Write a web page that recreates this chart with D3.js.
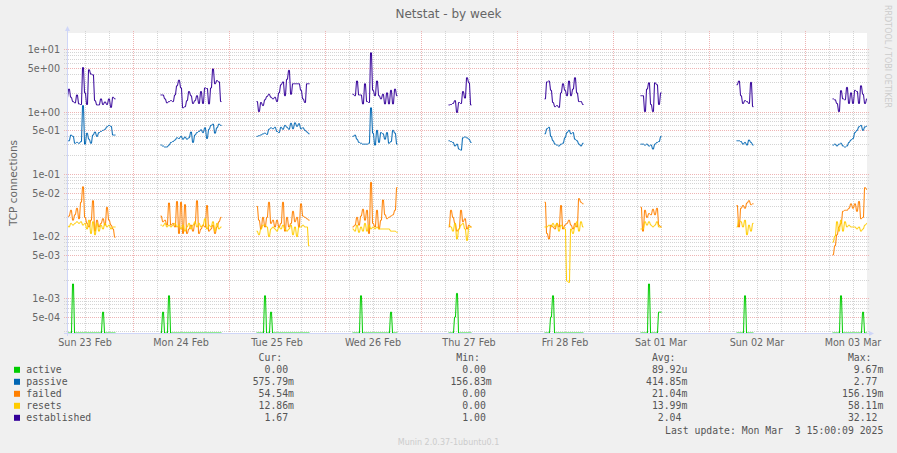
<!DOCTYPE html>
<html>
<head>
<meta charset="utf-8">
<script src="https://cdn.jsdelivr.net/npm/d3@7"></script>
<style>
  body { margin: 0; background: #f0f0f0; }
  svg text { white-space: pre; }
</style>
</head>
<body>
<div id="chart"></div>
<script>
// ---- data (30 minute samples, one array per daily block of data) ----
const segmentStarts = [
  "2025-02-23T07:15:00Z", "2025-02-24T06:45:00Z", "2025-02-25T06:45:00Z",
  "2025-02-26T06:45:00Z", "2025-02-27T06:45:00Z", "2025-02-28T06:45:00Z",
  "2025-03-01T06:45:00Z", "2025-03-02T06:45:00Z", "2025-03-03T06:45:00Z"
];

const active = [
  [0, 0, 0, 0.0017, 0, 0, 0, 0, 0, 0, 0, 0, 0, 0, 0, 0, 0, 0, 0.0006, 0, 0, 0, 0, 0, 0],
  [0, 0.0006, 0, 0, 0.0011, 0, 0, 0, 0, 0, 0, 0, 0, 0, 0, 0, 0, 0, 0, 0, 0, 0, 0, 0, 0, 0, 0, 0, 0, 0, 0],
  [0, 0, 0, 0, 0.0011, 0, 0, 0.0006, 0, 0, 0, 0, 0, 0, 0, 0, 0, 0, 0, 0, 0, 0, 0, 0, 0, 0, 0],
  [0, 0, 0, 0, 0.0011, 0, 0, 0, 0, 0, 0, 0, 0, 0, 0, 0, 0, 0, 0, 0.0006, 0, 0, 0],
  [0, 0, 0, 0.0005, 0.0012, 0, 0, 0, 0, 0, 0, 0],
  [0, 0, 0, 0.0005, 0.0011, 0, 0, 0, 0, 0, 0, 0, 0, 0, 0, 0, 0, 0, 0, 0],
  [0, 0, 0, 0, 0.0017, 0, 0, 0, 0, 0.0006, 0.0006],
  [0, 0, 0, 0, 0.0011, 0, 0, 0, 0],
  [0, 0, 0, 0, 0.0011, 0, 0, 0, 0, 0, 0, 0, 0, 0, 0, 0.0006, 0, 0]
];

const passive = [
  [0.33, 0.34, 0.42, 0.4, 0.31, 0.32, 0.31, 0.33, 1.25, 0.3, 0.45, 0.36, 0.31, 0.42, 0.47, 0.4, 0.46, 0.48, 0.5, 0.52, 0.57, 0.6, 0.58, 0.42, 0.42],
  [0.29, 0.28, 0.27, 0.27, 0.29, 0.32, 0.33, 0.35, 0.38, 0.37, 0.4, 0.36, 0.39, 0.36, 0.38, 0.47, 0.32, 0.42, 0.46, 0.48, 0.51, 0.46, 0.55, 0.37, 0.52, 0.6, 0.63, 0.45, 0.55, 0.63, 0.6],
  [0.4, 0.41, 0.42, 0.44, 0.45, 0.43, 0.52, 0.55, 0.53, 0.56, 0.48, 0.46, 0.56, 0.52, 0.6, 0.56, 0.52, 0.65, 0.53, 0.66, 0.58, 0.64, 0.53, 0.55, 0.5, 0.47, 0.44],
  [0.4, 0.42, 0.36, 0.32, 0.31, 0.3, 0.3, 0.3, 0.31, 1.15, 0.45, 0.29, 0.5, 0.32, 0.46, 0.44, 0.36, 0.46, 0.31, 0.33, 0.5, 0.45, 0.3],
  [0.34, 0.33, 0.32, 0.28, 0.3, 0.25, 0.24, 0.38, 0.39, 0.38, 0.36, 0.32],
  [0.44, 0.53, 0.56, 0.4, 0.34, 0.3, 0.29, 0.28, 0.3, 0.31, 0.38, 0.46, 0.5, 0.44, 0.46, 0.36, 0.34, 0.3, 0.28, 0.31],
  [0.3, 0.3, 0.29, 0.3, 0.28, 0.29, 0.25, 0.3, 0.32, 0.33, 0.4],
  [0.34, 0.34, 0.33, 0.3, 0.32, 0.29, 0.35, 0.32, 0.29],
  [0.29, 0.3, 0.28, 0.3, 0.31, 0.28, 0.27, 0.28, 0.32, 0.35, 0.37, 0.46, 0.5, 0.57, 0.6, 0.5, 0.57, 0.58]
];

const failed = [
  [0.02, 0.021, 0.026, 0.018, 0.022, 0.028, 0.019, 0.035, 0.062, 0.02, 0.016, 0.014, 0.018, 0.037, 0.012, 0.018, 0.014, 0.016, 0.019, 0.015, 0.029, 0.018, 0.015, 0.013, 0.0096],
  [0.021, 0.017, 0.018, 0.015, 0.034, 0.015, 0.016, 0.014, 0.036, 0.011, 0.035, 0.011, 0.032, 0.011, 0.013, 0.015, 0.012, 0.016, 0.037, 0.011, 0.013, 0.015, 0.014, 0.031, 0.012, 0.013, 0.015, 0.011, 0.014, 0.017, 0.02],
  [0.03, 0.018, 0.013, 0.02, 0.014, 0.02, 0.035, 0.016, 0.018, 0.014, 0.018, 0.014, 0.016, 0.035, 0.012, 0.02, 0.014, 0.016, 0.025, 0.017, 0.02, 0.014, 0.033, 0.021, 0.02, 0.019, 0.018],
  [0.014, 0.015, 0.02, 0.015, 0.021, 0.027, 0.018, 0.026, 0.011, 0.073, 0.016, 0.014, 0.026, 0.013, 0.018, 0.038, 0.022, 0.019, 0.02, 0.021, 0.022, 0.026, 0.06],
  [0.014, 0.026, 0.02, 0.016, 0.012, 0.013, 0.026, 0.017, 0.019, 0.013, 0.015, 0.014],
  [0.035, 0.011, 0.009, 0.015, 0.014, 0.013, 0.016, 0.014, 0.031, 0.013, 0.015, 0.016, 0.018, 0.015, 0.013, 0.016, 0.014, 0.04, 0.035, 0.033],
  [0.029, 0.012, 0.026, 0.02, 0.023, 0.022, 0.027, 0.022, 0.028, 0.015, 0.014],
  [0.031, 0.014, 0.028, 0.031, 0.028, 0.034, 0.037, 0.032, 0.033],
  [0.005, 0.007, 0.0105, 0.014, 0.016, 0.025, 0.026, 0.026, 0.028, 0.033, 0.028, 0.033, 0.025, 0.036, 0.019, 0.02, 0.06, 0.056]
];

const resets = [
  [0.015, 0.014, 0.016, 0.015, 0.016, 0.017, 0.016, 0.017, 0.015, 0.016, 0.013, 0.018, 0.011, 0.017, 0.0105, 0.016, 0.012, 0.015, 0.013, 0.016, 0.014, 0.015, 0.013, 0.014, 0.014],
  [0.015, 0.0145, 0.016, 0.014, 0.015, 0.014, 0.015, 0.016, 0.014, 0.015, 0.013, 0.015, 0.012, 0.014, 0.016, 0.013, 0.015, 0.017, 0.014, 0.016, 0.014, 0.015, 0.019, 0.013, 0.015, 0.014, 0.017, 0.012, 0.016, 0.013, 0.014],
  [0.012, 0.0105, 0.013, 0.015, 0.015, 0.014, 0.0098, 0.013, 0.014, 0.013, 0.012, 0.014, 0.013, 0.015, 0.013, 0.012, 0.013, 0.015, 0.0105, 0.014, 0.0098, 0.014, 0.014, 0.015, 0.014, 0.014, 0.007],
  [0.013, 0.012, 0.015, 0.0115, 0.014, 0.012, 0.016, 0.012, 0.015, 0.013, 0.014, 0.013, 0.014, 0.013, 0.013, 0.013, 0.013, 0.013, 0.013, 0.012, 0.012, 0.012, 0.0115],
  [0.015, 0.014, 0.012, 0.016, 0.009, 0.013, 0.015, 0.016, 0.013, 0.0085, 0.014, 0.014],
  [0.014, 0.014, 0.015, 0.014, 0.016, 0.014, 0.016, 0.012, 0.015, 0.014, 0.013, 0.0019, 0.0018, 0.013, 0.011, 0.014, 0.017, 0.012, 0.017, 0.014],
  [0.013, 0.013, 0.017, 0.015, 0.017, 0.015, 0.014, 0.015, 0.017, 0.014, 0.014],
  [0.014, 0.018, 0.017, 0.014, 0.018, 0.0105, 0.015, 0.012, 0.016],
  [0.008, 0.01, 0.017, 0.012, 0.018, 0.012, 0.017, 0.014, 0.015, 0.014, 0.014, 0.014, 0.013, 0.014, 0.012, 0.013, 0.015, 0.016]
];

const established = [
  [1.66, 2.3, 1.7, 1.45, 1.38, 1.85, 1.33, 1.3, 5.1, 2.0, 1.3, 4.7, 4.0, 3.9, 1.5, 1.28, 1.28, 1.6, 1.3, 1.43, 1.3, 1.6, 1.17, 1.7, 1.6],
  [1.85, 1.85, 1.6, 1.38, 1.45, 1.5, 1.45, 1.85, 2.6, 3.2, 2.4, 1.15, 1.2, 1.5, 2.1, 1.8, 1.35, 1.5, 1.8, 1.35, 2.1, 1.35, 2.4, 2.35, 1.33, 2.4, 4.85, 2.8, 3.15, 3.0, 1.45],
  [1.45, 1.0, 1.4, 1.25, 1.55, 1.75, 1.9, 1.7, 1.6, 1.7, 1.45, 2.0, 2.7, 3.0, 1.8, 3.3, 4.6, 1.9, 2.8, 2.8, 2.8, 2.8, 2.2, 1.6, 1.4, 2.8, 2.8],
  [1.9, 1.8, 3.1, 1.85, 1.85, 1.33, 2.8, 1.45, 1.4, 8.8, 2.2, 1.8, 3.1, 1.8, 1.6, 1.9, 1.33, 2.0, 1.33, 2.2, 1.33, 2.3, 1.8],
  [1.28, 1.3, 1.35, 1.5, 0.97, 1.4, 1.35, 2.1, 1.65, 3.5, 2.9, 1.28],
  [1.6, 3.0, 3.1, 2.2, 1.4, 1.2, 1.25, 1.17, 2.0, 2.8, 2.2, 1.8, 3.1, 1.8, 2.3, 3.5, 2.0, 1.45, 1.45, 1.3],
  [1.8, 1.8, 1.0, 2.3, 2.9, 1.3, 1.0, 2.9, 2.7, 1.3, 2.0],
  [2.7, 3.1, 1.8, 1.35, 1.5, 1.45, 1.35, 2.95, 1.2],
  [1.6, 1.55, 1.35, 1.0, 2.17, 1.6, 1.55, 2.45, 1.35, 2.0, 1.35, 2.2, 2.1, 1.35, 2.6, 1.9, 1.35, 1.6]
];

const seriesNames = ["active", "passive", "failed", "resets", "established"];
const seriesValues = [active, passive, failed, resets, established];
const seriesColors = ["#00cc00", "#0066b3", "#ff8000", "#ffcc00", "#330099"];

const legendCur = ["0.00", "575.79m", "54.54m", "12.86m", "1.67"];
const legendMin = ["0.00", "156.83m", "0.00", "0.00", "1.00"];
const legendAvg = ["89.92u", "414.85m", "21.04m", "13.99m", "2.04"];
const legendMax = ["9.67m", "2.77", "156.19m", "58.11m", "32.12"];

const yMajorTicks = [5e-4, 1e-3, 5e-3, 1e-2, 5e-2, 1e-1, 5e-1, 1, 5, 10];
const timeStart = "2025-02-23T07:30:00Z";
const timeEnd = "2025-03-03T15:30:00Z";
const lastUpdate = "Last update: Mon Mar  3 15:00:09 2025";

class NetstatChart {
    constructor(node, sizeSettings) {
        this.node = node;
        this.sizeSettings = sizeSettings;
        this.init();
    }

    init() {
        const {width, height} = this.sizeSettings;
        this.svg = d3.select(this.node).append('svg')
            .attr('width', width)
            .attr('height', height)
            .attr('viewBox', `0 0 ${width} ${height}`)
            .style('display', 'block');

        // plot box (pixels)
        this.plot = {left: 67, top: 33, width: 800, height: 300};
        this.updateScales();
        this.render();
    }

    updateScales() {
        const p = this.plot;
        this.x = d3.scaleUtc()
            .domain([new Date(timeStart), new Date(timeEnd)])
            .range([p.left, p.left + p.width]);
        // log axis, lower/upper limits as drawn by rrdtool
        this.yMin = Math.pow(10, -3.557);
        this.yMax = Math.pow(10, 1.263);
        this.y = d3.scaleLog()
            .domain([this.yMin, this.yMax])
            .range([p.top + p.height, p.top])
            .clamp(true);
    }

    fmtExp(v) {
        const e = Math.floor(Math.log10(v) + 1e-9);
        const m = Math.round(v / Math.pow(10, e));
        return `${m}e${e < 0 ? '-' : '+'}${String(Math.abs(e)).padStart(2, '0')}`;
    }

    render() {
        const {width, height} = this.sizeSettings;
        const p = this.plot;
        const svg = this.svg;
        const x = this.x, y = this.y;
        const bottom = p.top + p.height, right = p.left + p.width;
        const fontColor = '#666666';

        svg.append('rect').attr('width', width).attr('height', height).attr('fill', '#f0f0f0');
        svg.append('rect')
            .attr('x', p.left).attr('y', p.top)
            .attr('width', p.width).attr('height', p.height)
            .attr('fill', '#ffffff');

        // ---- grid ----
        const grid = svg.append('g').attr('shape-rendering', 'crispEdges');
        const minorY = [], majorY = [];
        for (let e = -4; e <= 1; e++) {
            for (let m = 1; m <= 9; m++) {
                const v = m * Math.pow(10, e);
                if (v < this.yMin || v > this.yMax) continue;
                (m === 1 || m === 5 ? majorY : minorY).push(v);
            }
        }
        const hLine = (vals, color) => grid.selectAll(null).data(vals).enter().append('line')
            .attr('x1', p.left - 3).attr('x2', right + 2)
            .attr('y1', (d) => Math.round(y(d)) + 0.5).attr('y2', (d) => Math.round(y(d)) + 0.5)
            .attr('stroke', color).attr('stroke-dasharray', '1,1');
        hLine(minorY, '#d4d4d4');
        hLine(majorY, '#eeb4b4');

        const sixHours = d3.utcHour.every(6).range(x.domain()[0], x.domain()[1]);
        const minorX = sixHours.filter((t) => t.getUTCHours() !== 0);
        const majorX = sixHours.filter((t) => t.getUTCHours() === 0);
        const vLine = (vals, color) => grid.selectAll(null).data(vals).enter().append('line')
            .attr('y1', p.top - 2).attr('y2', bottom + 2)
            .attr('x1', (d) => Math.round(x(d)) + 0.5).attr('x2', (d) => Math.round(x(d)) + 0.5)
            .attr('stroke', color).attr('stroke-dasharray', '1,1');
        vLine(minorX, '#d4d4d4');
        vLine(majorX, '#eeb4b4');

        // ---- series ----
        svg.append('clipPath').attr('id', 'plotClip')
            .append('rect').attr('x', p.left).attr('y', p.top - 1)
            .attr('width', p.width).attr('height', p.height + 2);

        const halfHour = 30 * 60 * 1000;
        const line = d3.line().x((d) => d[0]).y((d) => d[1]);

        const series = svg.append('g').attr('clip-path', 'url(#plotClip)');
        seriesValues.forEach((segments, si) => {
            segments.forEach((vals, k) => {
                const t0 = new Date(segmentStarts[k]).getTime();
                // every sample covers two pixel columns, like rrdtool draws it
                const pts = vals.flatMap((v, i) => {
                    const px = x(new Date(t0 + i * halfHour));
                    const py = y(Math.max(v, this.yMin));
                    return [[px + 0.5, py], [px + 1.5, py]];
                });
                series.append('path')
                    .attr('d', line(pts))
                    .attr('fill', 'none')
                    .attr('stroke', seriesColors[si])
                    .attr('stroke-width', 1);
            });
        });

        // ---- axes ----
        const axisColor = '#cfd6f8';
        svg.append('line').attr('x1', p.left - 3).attr('x2', right + 4)
            .attr('y1', bottom + 0.5).attr('y2', bottom + 0.5).attr('stroke', axisColor);
        svg.append('line').attr('x1', p.left + 0.5).attr('x2', p.left + 0.5)
            .attr('y1', bottom + 3).attr('y2', p.top - 4).attr('stroke', axisColor);
        svg.append('path').attr('fill', axisColor)
            .attr('d', `M${p.left - 2},${p.top - 2}L${p.left + 3},${p.top - 2}L${p.left + 0.5},${p.top - 7}Z`);
        svg.append('path').attr('fill', axisColor)
            .attr('d', `M${right + 2},${bottom - 2}L${right + 2},${bottom + 3}L${right + 7},${bottom + 0.5}Z`);

        // ---- tick labels ----
        svg.selectAll(null).data(yMajorTicks).enter().append('text')
            .attr('x', p.left - 7)
            .attr('y', (d) => Math.round(y(d)) + 0.5)
            .attr('dy', '0.35em')
            .attr('text-anchor', 'end')
            .attr('font-family', 'DejaVu Sans')
            .attr('font-size', 9.6)
            .attr('fill', fontColor)
            .text((d) => this.fmtExp(d));

        const days = d3.utcDay.range(d3.utcDay.floor(x.domain()[0]), x.domain()[1]);
        const dayFmt = d3.utcFormat('%a %d %b');
        svg.selectAll(null).data(days).enter().append('text')
            .attr('x', (d) => x(d3.utcHour.offset(d, 12)))
            .attr('y', bottom + 12.5)
            .attr('text-anchor', 'middle')
            .attr('font-family', 'DejaVu Sans')
            .attr('font-size', 9.6)
            .attr('fill', fontColor)
            .text((d) => dayFmt(d));

        // ---- titles ----
        svg.append('text')
            .attr('x', width / 2).attr('y', 18)
            .attr('text-anchor', 'middle')
            .attr('font-family', 'DejaVu Sans')
            .attr('font-size', 12)
            .attr('fill', fontColor)
            .text('Netstat - by week');

        svg.append('text')
            .attr('transform', `translate(13,${p.top + p.height / 2}) rotate(-90)`)
            .attr('text-anchor', 'middle')
            .attr('dy', '0.35em')
            .attr('font-family', 'DejaVu Sans')
            .attr('font-size', 10.5)
            .attr('fill', fontColor)
            .text('TCP connections');

        svg.append('text')
            .attr('transform', `translate(888,5) rotate(90)`)
            .attr('dy', '0.35em')
            .attr('font-family', 'DejaVu Sans')
            .attr('font-size', 8)
            .attr('fill', '#cccccc')
            .text('RRDTOOL / TOBI OETIKER');

        svg.append('text')
            .attr('x', width / 2).attr('y', 445)
            .attr('text-anchor', 'middle')
            .attr('font-family', 'DejaVu Sans')
            .attr('font-size', 8)
            .attr('fill', '#cccccc')
            .text('Munin 2.0.37-1ubuntu0.1');

        this.renderLegend();
    }

    renderLegend() {
        const svg = this.svg;
        const fs = 9.8;
        const cw = fs * 0.602;
        const mono = 'DejaVu Sans Mono';
        const fontColor = '#555555';
        const rowY = (i) => 373.3 + i * 12;
        const cols = [
            {head: 'Cur:', right: 294, vals: legendCur},
            {head: 'Min:', right: 491.7, vals: legendMin},
            {head: 'Avg:', right: 687.3, vals: legendAvg},
            {head: 'Max:', right: 883.3, vals: legendMax}
        ];
        const g = svg.append('g').attr('font-family', mono).attr('font-size', fs).attr('fill', fontColor);

        cols.forEach((c) => {
            g.append('text').attr('x', c.right - 2 * cw).attr('y', 361)
                .attr('text-anchor', 'end').text(c.head);
            c.vals.forEach((v, i) => {
                const shift = /[0-9]$/.test(v) ? cw : 0;
                g.append('text').attr('x', c.right - shift).attr('y', rowY(i))
                    .attr('text-anchor', 'end').text(v);
            });
        });

        seriesNames.forEach((name, i) => {
            svg.append('rect')
                .attr('x', 14).attr('y', rowY(i) - 6.5)
                .attr('width', 6).attr('height', 6)
                .attr('fill', seriesColors[i]);
            g.append('text').attr('x', 26.3).attr('y', rowY(i)).text(name);
        });

        g.append('text').attr('x', 883.3).attr('y', 433.5)
            .attr('text-anchor', 'end').text(lastUpdate);
    }
}

new NetstatChart(document.getElementById('chart'), {width: 897, height: 453});
</script>
</body>
</html>
